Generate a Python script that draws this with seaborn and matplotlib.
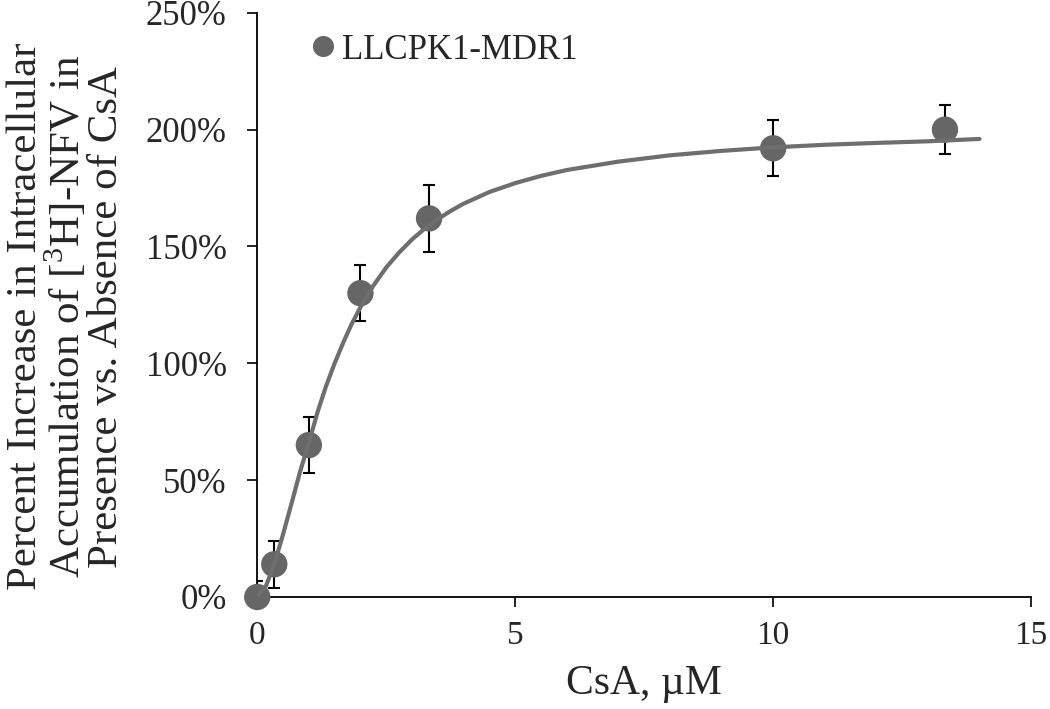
import numpy as np
import pandas as pd
import matplotlib
matplotlib.use("Agg")
import matplotlib.pyplot as plt
from matplotlib.ticker import PercentFormatter
import seaborn as sns

# measured points (CsA uM, % increase, error)
csa = [0, 0.33, 1, 2, 3.33, 10, 13.33]
pct = [0, 14, 65, 130, 162, 192, 200]
err = [7, 10, 12, 12, 14.5, 12, 10.5]

# fitted curve
curve_x = [0, 0.17, 0.33, 0.5, 0.67, 0.83, 1.0, 1.17, 1.33, 1.5, 1.67, 1.83, 2.0,
           2.25, 2.5, 2.75, 3.0, 3.25, 3.5, 3.75, 4.0, 4.5, 5.0, 5.5, 6.0, 7.0,
           8.0, 9.0, 10.0, 11.0, 12.0, 13.0, 14.0]
curve_y = [0, 4.8, 14, 26.8, 40.5, 53.6, 66, 79.2, 90, 100, 109, 116.8, 124,
           133.2, 141, 147.4, 153, 157.7, 161.7, 165.2, 168.3, 173.3, 177.1, 180.2, 182.7, 186.3,
           189, 190.9, 192.4, 193.5, 194.3, 195, 196]

pts = pd.DataFrame({"CsA": csa, "pct": pct, "err": err, "cell": "LLCPK1-MDR1"})
fit = pd.DataFrame({"CsA": curve_x, "pct": curve_y})

sns.set_style("white")
plt.rcParams["font.family"] = ["Liberation Serif", "DejaVu Serif"]
plt.rcParams["mathtext.fontset"] = "custom"
plt.rcParams["mathtext.rm"] = "Liberation Serif"

fig, ax = plt.subplots(figsize=(10.5, 7.09), dpi=100)
fig.subplots_adjust(left=0.245, right=0.982, top=0.982, bottom=0.158)

ax.errorbar(pts["CsA"], pts["pct"], yerr=pts["err"], fmt="none", ecolor="black",
            elinewidth=1.5, capsize=4.5, capthick=1.5, zorder=2)
sns.scatterplot(data=pts, x="CsA", y="pct", hue="cell", palette=["#666666"], s=360,
                edgecolor="none", ax=ax, zorder=3, clip_on=False)
sns.lineplot(data=fit, x="CsA", y="pct", color="#6e6e6e", linewidth=3, ax=ax, zorder=4)

ax.set_xlim(0, 15)
ax.set_ylim(0, 250)
ax.set_xticks([0, 5, 10, 15])
ax.set_yticks(np.arange(0, 251, 50))
ax.yaxis.set_major_formatter(PercentFormatter(xmax=100, decimals=0))
ax.tick_params(axis="both", which="major", length=7, width=1.2,
               color="black", direction="out", left=True, bottom=True)
ax.tick_params(axis="y", pad=15, labelsize=25)
ax.tick_params(axis="x", pad=10, labelsize=24)

for side in ["top", "right"]:
    ax.spines[side].set_visible(False)
for side in ["left", "bottom"]:
    ax.spines[side].set_color("black")
    ax.spines[side].set_linewidth(1.3)

ax.set_xlabel("CsA, \u00b5M", fontsize=30, labelpad=10)
ax.set_ylabel("Percent Increase in Intracellular\nAccumulation of [$^{\\mathregular{3}}$H]-NFV in\n"
              "Presence vs. Absence of CsA", fontsize=31, linespacing=0.95)
ax.yaxis.set_label_coords(-0.17, 0.48)

leg = ax.legend(loc="upper left", bbox_to_anchor=(0.04, 1.0), frameon=False, fontsize=25,
                handlelength=0.8, handletextpad=0.15, borderaxespad=0.2, markerscale=0.8)

fig.savefig("out.png", dpi=100)
